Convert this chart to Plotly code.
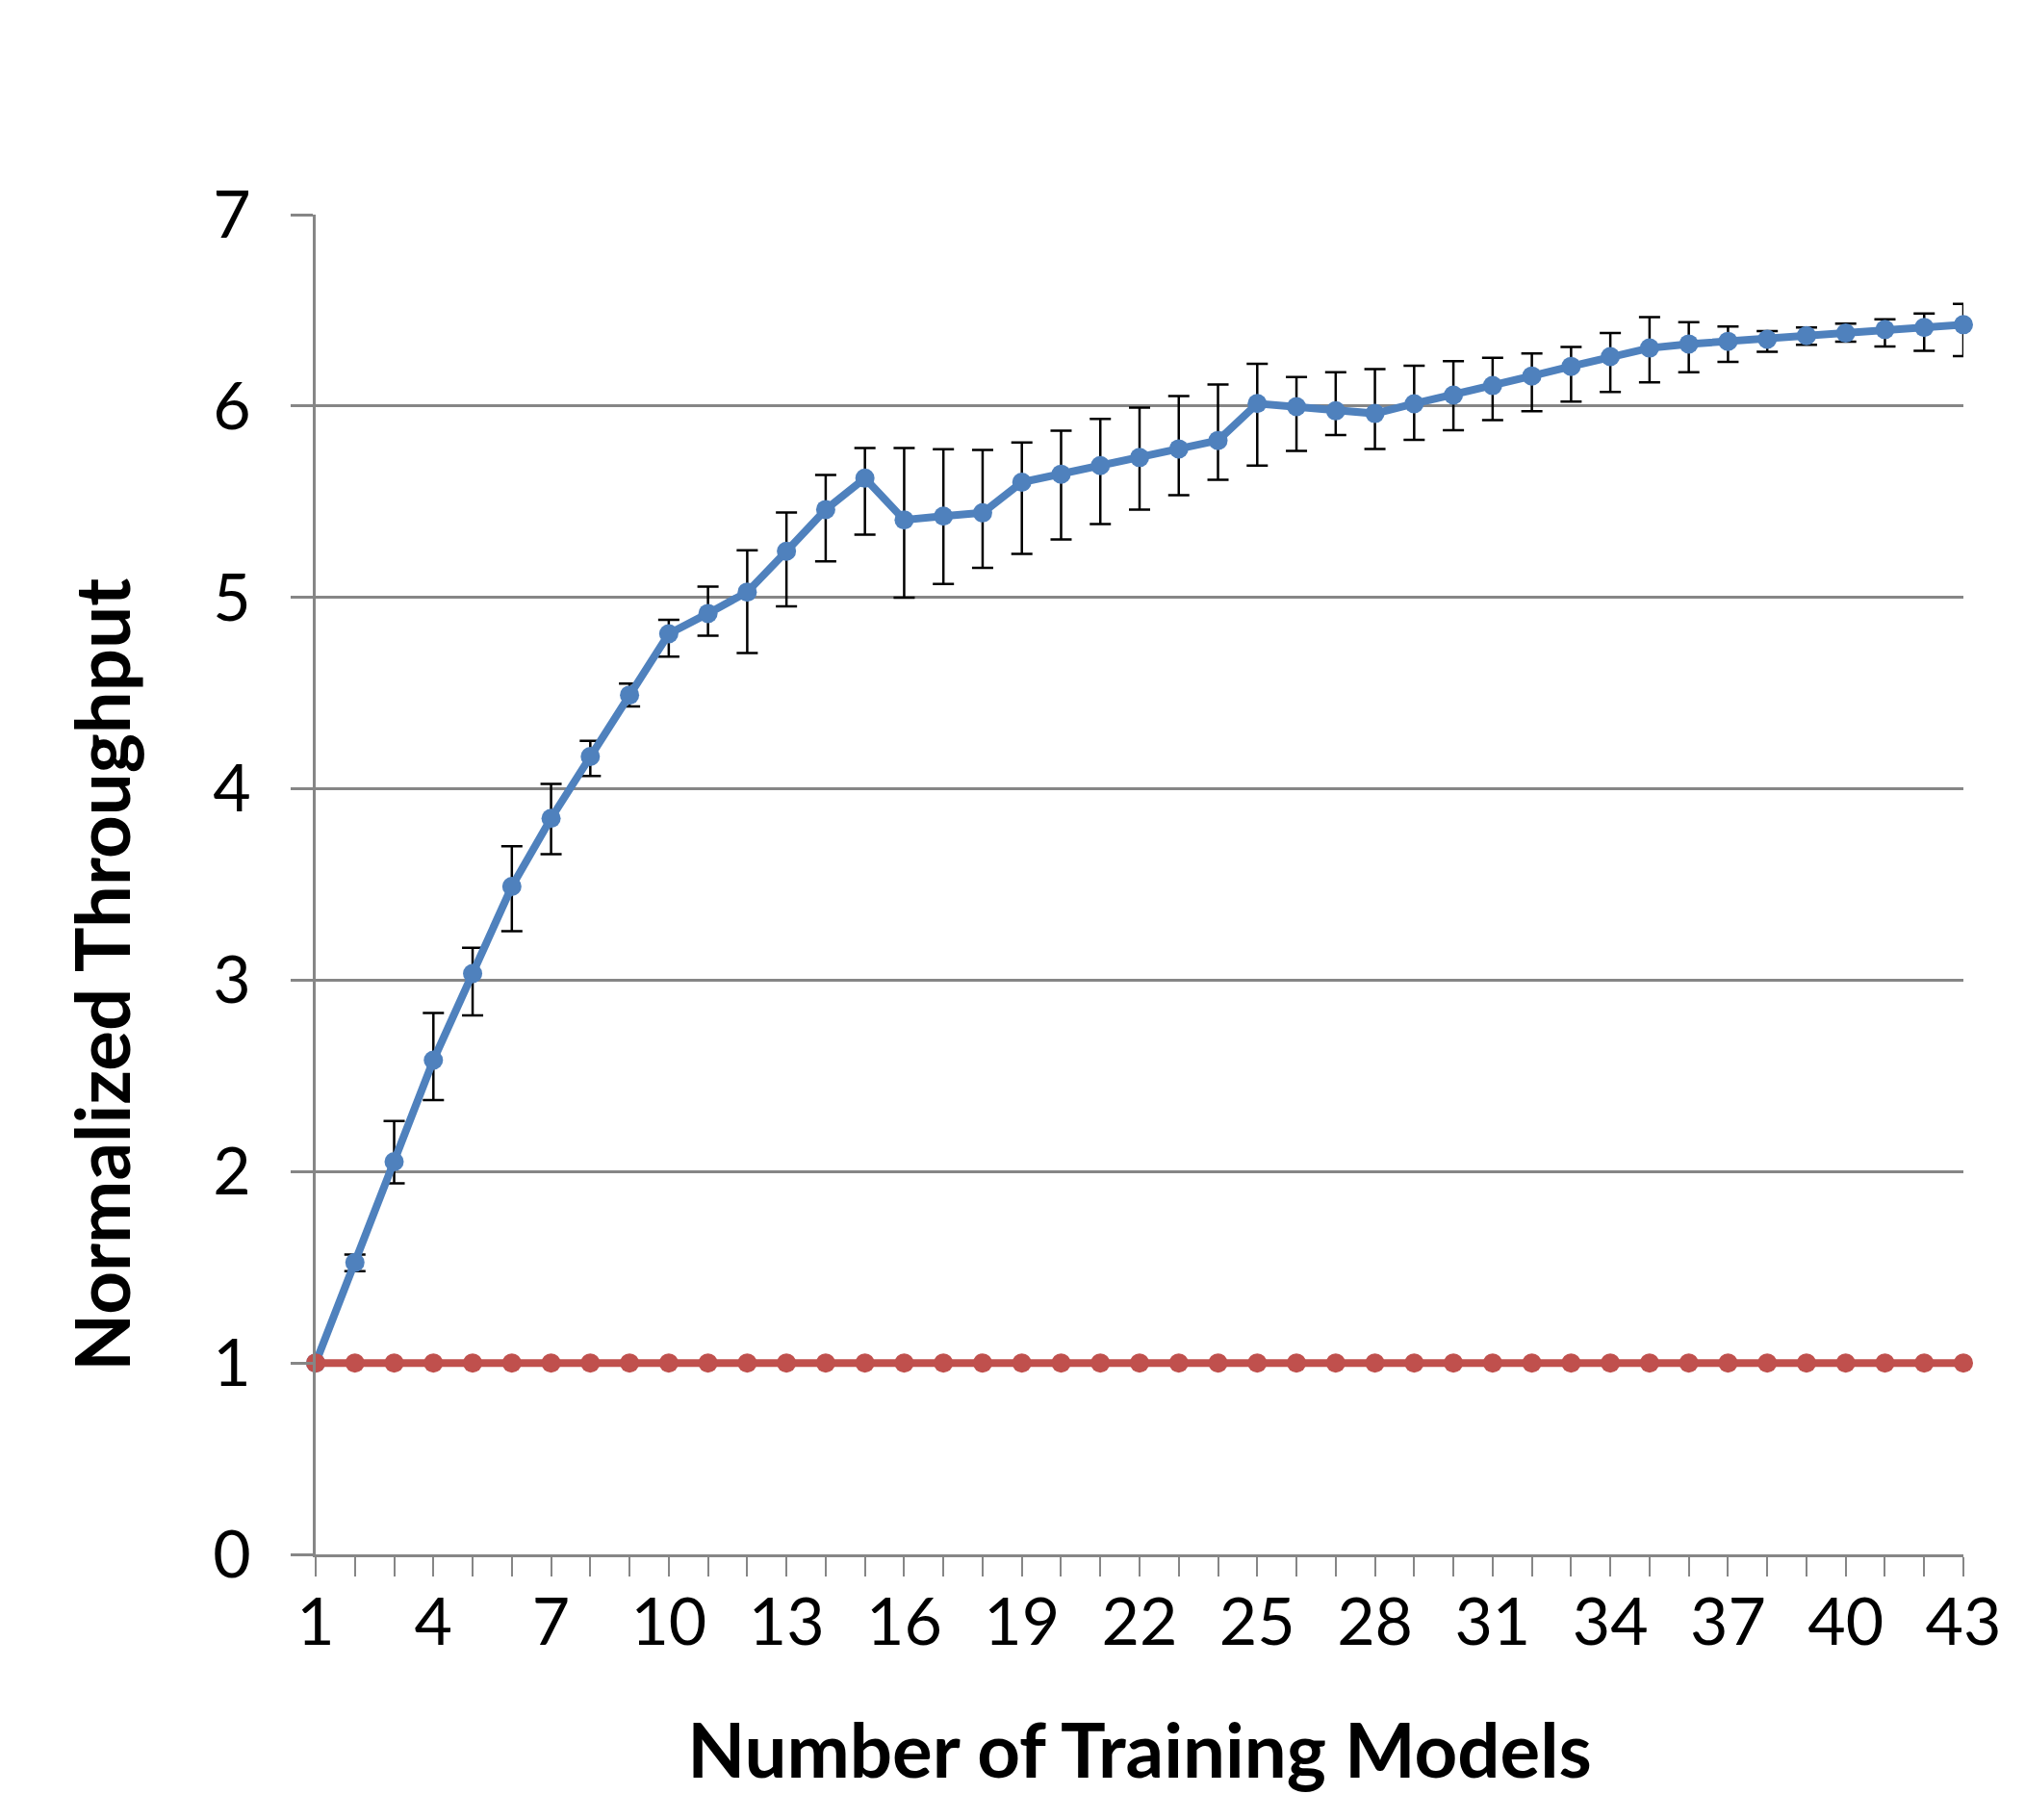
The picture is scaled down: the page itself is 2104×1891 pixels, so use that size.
import plotly.graph_objects as go

models = list(range(1, 44))

throughput = [1.00, 1.525, 2.052, 2.582, 3.035, 3.49, 3.846, 4.169, 4.49, 4.81,
              4.916, 5.028, 5.241, 5.459, 5.623, 5.405, 5.425, 5.442, 5.602, 5.644,
              5.689, 5.731, 5.776, 5.82, 6.013, 5.997, 5.975, 5.961, 6.012, 6.057,
              6.107, 6.157, 6.207, 6.258, 6.303, 6.324, 6.338, 6.349, 6.368, 6.381,
              6.40, 6.411, 6.425]

upper = [1.00, 1.567, 2.264, 2.829, 3.169, 3.70, 4.025, 4.25, 4.55, 4.883,
         5.057, 5.246, 5.444, 5.640, 5.781, 5.781, 5.774, 5.771, 5.81, 5.871,
         5.933, 5.992, 6.052, 6.113, 6.22, 6.151, 6.176, 6.193, 6.211, 6.234,
         6.252, 6.274, 6.308, 6.381, 6.465, 6.438, 6.415, 6.391, 6.41, 6.43,
         6.453, 6.483, 6.533]

lower = [1.00, 1.48, 1.938, 2.373, 2.816, 3.256, 3.658, 4.067, 4.43, 4.69,
         4.80, 4.71, 4.953, 5.188, 5.328, 4.998, 5.07, 5.154, 5.227, 5.303,
         5.383, 5.459, 5.534, 5.615, 5.689, 5.765, 5.849, 5.776, 5.823, 5.873,
         5.926, 5.973, 6.023, 6.074, 6.124, 6.177, 6.231, 6.283, 6.32, 6.336,
         6.311, 6.288, 6.261]

baseline = [1, 1, 1, 1, 1, 1, 1, 1, 1, 1, 1, 1, 1, 1, 1, 1, 1, 1, 1, 1, 1,
            1, 1, 1, 1, 1, 1, 1, 1, 1, 1, 1, 1, 1, 1, 1, 1, 1, 1, 1, 1, 1, 1]

x_labels = [str(m) if (m - 1) % 3 == 0 else "" for m in models]
y_ticks = [0, 1, 2, 3, 4, 5, 6, 7]

err_plus = [u - t for u, t in zip(upper, throughput)]
err_minus = [t - l for t, l in zip(throughput, lower)]

BLUE = "#4F81BD"
RED = "#C0504D"
GRID = "#868686"
FONT = "Lato"

fig = go.Figure()
fig.add_trace(go.Scatter(
    x=models, y=throughput, mode="lines+markers",
    line=dict(color=BLUE, width=8),
    marker=dict(color=BLUE, size=20),
    error_y=dict(type="data", symmetric=False, array=err_plus, arrayminus=err_minus,
                 color="black", thickness=2.5, width=11),
    cliponaxis=False, showlegend=False,
))
fig.add_trace(go.Scatter(
    x=models, y=baseline, mode="lines+markers",
    line=dict(color=RED, width=8),
    marker=dict(color=RED, size=20),
    cliponaxis=False, showlegend=False,
))

fig.update_layout(
    width=2104, height=1891,
    margin=dict(l=320, r=72, t=215, b=284),
    paper_bgcolor="white", plot_bgcolor="white",
    font=dict(family=FONT, color="black"),
    xaxis=dict(
        range=[1, 43], tickmode="array", tickvals=models, ticktext=x_labels,
        ticks="outside", ticklen=20, tickwidth=2, tickcolor=GRID,
        showline=True, linecolor=GRID, linewidth=2.5,
        showgrid=False, zeroline=False, ticklabelstandoff=-10,
        tickfont=dict(size=68, family=FONT, color="black"),
        title=dict(text="<b>Number of Training Models</b>", font=dict(size=78, family=FONT, color="black"), standoff=71),
    ),
    yaxis=dict(
        range=[0, 7], tickmode="array", tickvals=y_ticks,
        ticks="outside", ticklen=23, tickwidth=2.5, tickcolor=GRID,
        showline=True, linecolor=GRID, linewidth=2.5,
        showgrid=True, gridcolor=GRID, gridwidth=2.5, zeroline=False,
        ticklabelstandoff=28,
        tickfont=dict(size=68, family=FONT, color="black"),
    ),
    annotations=[dict(
        text="<b>Normalized Throughput</b>", textangle=-90,
        xref="paper", yref="paper", x=-0.130, y=0.433,
        xanchor="center", yanchor="middle", showarrow=False,
        font=dict(size=78, family=FONT, color="black"),
    )],
)

fig.write_html("out.html")
